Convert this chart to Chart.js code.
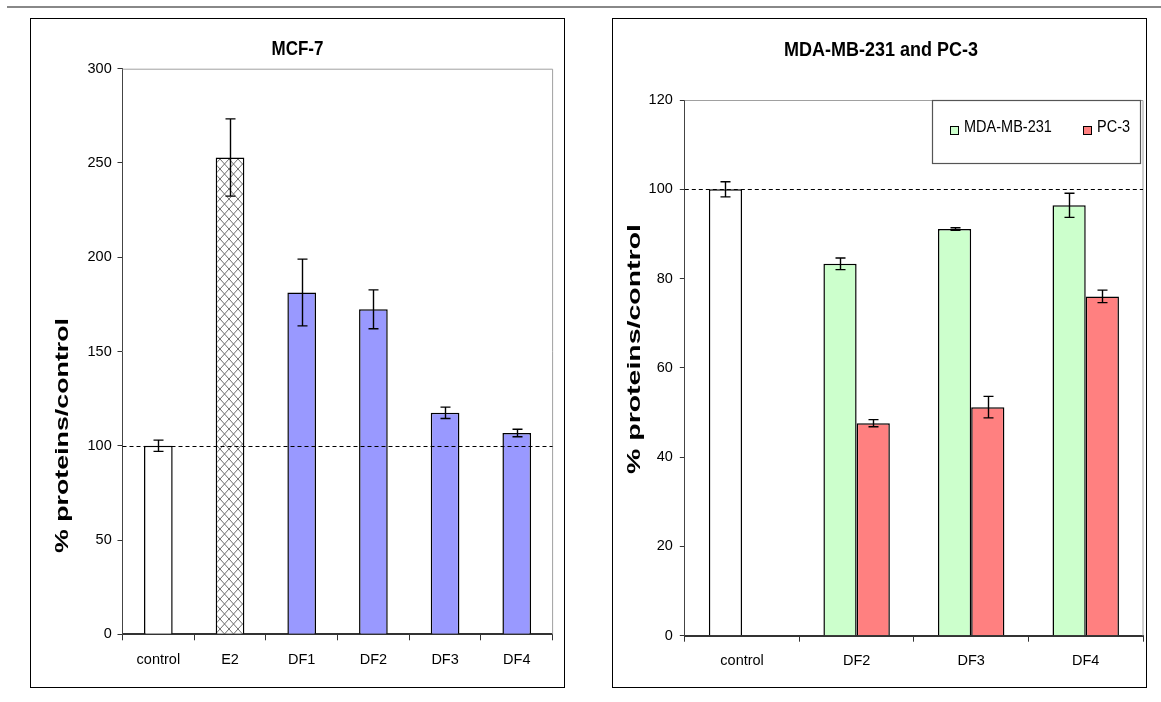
<!DOCTYPE html>
<html><head><meta charset="utf-8">
<script src="https://cdn.jsdelivr.net/npm/chart.js@4.4.1/dist/chart.umd.min.js"></script>
<style>
html,body{margin:0;padding:0;background:#fff;}
body{width:1161px;height:702px;position:relative;overflow:hidden;}
#topline{position:absolute;left:7px;top:6px;width:1154px;height:2px;background:#888;}
.panel{position:absolute;top:18px;height:670px;width:535px;border:1px solid #000;box-sizing:border-box;}
#p1{left:30px;} #p2{left:612px;}
canvas{position:absolute;top:0;left:0;}
</style></head><body>
<div id="topline"></div>
<div class="panel" id="p1"><canvas id="c1" width="533" height="668"></canvas></div>
<div class="panel" id="p2"><canvas id="c2" width="533" height="668"></canvas></div>
<script>
// ---- data ----
const mcfCategories = ['control', 'E2', 'DF1', 'DF2', 'DF3', 'DF4'];
const mcfValues = [100, 252.9, 181.3, 172.4, 117.5, 106.8];
const mcfErrors = [3, 20.5, 17.7, 10.3, 3, 2];
const mcfTicks = [0, 50, 100, 150, 200, 250, 300];

const cellCategories = ['control', 'DF2', 'DF3', 'DF4'];
const mdaValues = [100, 83.3, 91.1, 96.4];
const mdaErrors = [1.7, 1.3, 0.3, 2.7];
const pc3Values = [0, 47.6, 51.2, 76.0];
const pc3Errors = [0, 0.8, 2.4, 1.4];
const cellTicks = [0, 20, 40, 60, 80, 100, 120];
const seriesNames = ['MDA-MB-231', 'PC-3'];
const referenceLine = 100;

// ---- helpers ----
const FAMILY = '"Liberation Sans", Arial, sans-serif';
Chart.defaults.font.family = FAMILY;
Chart.defaults.color = '#000';

function hatchPattern(ctx) {
  const c = document.createElement('canvas');
  c.width = 9; c.height = 10;
  const g = c.getContext('2d');
  g.fillStyle = '#fff'; g.fillRect(0, 0, 9, 10);
  g.strokeStyle = '#6e6e6e'; g.lineWidth = 1;
  g.beginPath();
  g.moveTo(0, 0); g.lineTo(9, 10);
  g.moveTo(9, 0); g.lineTo(0, 10);
  g.stroke();
  return ctx.createPattern(c, 'repeat');
}

function stretchText(ctx, text, x, y, font, o) {
  ctx.save();
  ctx.translate(x, y);
  if (o.rot) ctx.rotate(o.rot);
  ctx.font = font;
  let sx = o.sx || 1;
  if (o.width) sx = o.width / ctx.measureText(text).width;
  ctx.scale(sx, o.sy || 1);
  ctx.textAlign = o.align || 'center';
  ctx.textBaseline = 'middle';
  ctx.fillStyle = '#000';
  ctx.fillText(text, 0, 0);
  ctx.restore();
}

const overlay = {
  id: 'overlay',
  beforeDatasetsDraw(chart, args, o) {
    const {ctx, chartArea: a} = chart;
    ctx.save();
    ctx.strokeStyle = '#a0a0a0'; ctx.lineWidth = 1;
    ctx.beginPath();
    ctx.moveTo(a.left, a.top + 0.5); ctx.lineTo(a.right, a.top + 0.5);
    ctx.lineTo(a.right, a.bottom);
    ctx.stroke();
    ctx.restore();
  },
  afterDatasetsDraw(chart, args, o) {
    const {ctx, chartArea: a} = chart;
    const ys = chart.scales.y;
    ctx.save();
    // reference line
    const yr = Math.round(ys.getPixelForValue(o.ref)) + 0.5;
    ctx.strokeStyle = '#000'; ctx.lineWidth = 1.2; ctx.setLineDash([4, 3]);
    ctx.beginPath(); ctx.moveTo(a.left, yr); ctx.lineTo(a.right, yr); ctx.stroke();
    ctx.setLineDash([]);
    // error bars
    ctx.lineWidth = 1.4; ctx.strokeStyle = '#000';
    chart.data.datasets.forEach((ds, di) => {
      const meta = chart.getDatasetMeta(di);
      const errs = o.errors[di];
      meta.data.forEach((bar, i) => {
        const e = errs[i];
        if (!e) return;
        const v = ds.data[i];
        const t = ys.getPixelForValue(v + e), b = ys.getPixelForValue(v - e);
        const x = Math.round(bar.x) + 0.5, h = o.cap / 2;
        ctx.beginPath();
        ctx.moveTo(x, t); ctx.lineTo(x, b);
        ctx.moveTo(x - h, t); ctx.lineTo(x + h, t);
        ctx.moveTo(x - h, b); ctx.lineTo(x + h, b);
        ctx.stroke();
      });
    });
    ctx.restore();
  },
  afterDraw(chart, args, o) {
    const ctx = chart.ctx;
    const t = o.title;
    stretchText(ctx, t.text, t.x, t.y, 'bold ' + t.size + 'px ' + FAMILY, {sy: 1.15});
    const yt = o.yTitle;
    stretchText(ctx, yt.text, yt.x, yt.y, 'bold ' + yt.size + 'px ' + FAMILY, {rot: -Math.PI / 2, width: yt.length});
    if (o.legend) {
      const L = o.legend;
      ctx.save();
      ctx.fillStyle = '#fff';
      ctx.fillRect(L.x, L.y, L.w, L.h);
      ctx.strokeStyle = '#555'; ctx.lineWidth = 1.2;
      ctx.strokeRect(L.x + 0.5, L.y + 0.5, L.w, L.h);
      L.items.forEach(it => {
        ctx.fillStyle = it.color;
        ctx.fillRect(it.x, L.sy, 8, 8);
        ctx.strokeStyle = '#000'; ctx.lineWidth = 1;
        ctx.strokeRect(it.x + 0.5, L.sy + 0.5, 8, 8);
        stretchText(ctx, it.text, it.x + 14, L.ty, '14.5px ' + FAMILY, {align: 'left', sy: 1.2});
      });
      ctx.restore();
    }
  }
};

function yAxis(ticks, width, pad) {
  return {
    min: ticks[0], max: ticks[ticks.length - 1],
    afterBuildTicks: s => { s.ticks = ticks.map(v => ({value: v})); },
    afterFit: s => { s.width = width; },
    grid: {drawOnChartArea: false, drawTicks: true, tickLength: 5, tickColor: '#333', tickWidth: 1},
    border: {color: '#444', width: 1},
    ticks: {font: {size: 14.5}, color: '#000', padding: pad}
  };
}
function xAxis(height) {
  return {
    z: 1,
    afterFit: s => { s.height = height; },
    grid: {offset: true, drawOnChartArea: false, drawTicks: true, tickLength: 6, tickColor: '#333', tickWidth: 1},
    border: {color: '#333', width: 2},
    ticks: {font: {size: 14.5}, color: '#000', padding: 11, maxRotation: 0, autoSkip: false}
  };
}

// ---- chart 1: MCF-7 ----
const ctx1 = document.getElementById('c1').getContext('2d');
const hatch = hatchPattern(ctx1);
new Chart(ctx1, {
  type: 'bar',
  data: {
    labels: mcfCategories,
    datasets: [{
      data: mcfValues,
      backgroundColor: ['#ffffff', hatch, '#9999ff', '#9999ff', '#9999ff', '#9999ff'],
      borderColor: '#000', borderWidth: 1.5,
      barPercentage: 0.4, categoryPercentage: 1
    }]
  },
  options: {
    responsive: false, animation: false,
    layout: {padding: {top: 49.7, right: 11.4, left: 0, bottom: 0}},
    plugins: {
      legend: {display: false}, tooltip: {enabled: false},
      overlay: {
        ref: referenceLine, errors: [mcfErrors], cap: 10,
        title: {text: 'MCF-7', x: 266.5, y: 31, size: 17},
        yTitle: {text: '% proteins/control', x: 32.5, y: 416.5, size: 18, length: 235}
      }
    },
    scales: {x: xAxis(52.7), y: yAxis(mcfTicks, 91.5, 5.8)}
  },
  plugins: [overlay]
});

// ---- chart 2: MDA-MB-231 and PC-3 ----
const ctx2 = document.getElementById('c2').getContext('2d');
new Chart(ctx2, {
  type: 'bar',
  data: {
    labels: cellCategories,
    datasets: [{
      label: seriesNames[0],
      data: mdaValues,
      backgroundColor: ['#ffffff', '#ccffcc', '#ccffcc', '#ccffcc'],
      borderColor: '#000', borderWidth: 1.5,
      barPercentage: 1, categoryPercentage: 0.58
    }, {
      label: seriesNames[1],
      data: pc3Values,
      backgroundColor: '#ff8080',
      borderColor: '#000', borderWidth: 1.5,
      barPercentage: 1, categoryPercentage: 0.58
    }]
  },
  options: {
    responsive: false, animation: false,
    layout: {padding: {top: 81, right: 3, left: 0, bottom: 0}},
    plugins: {
      legend: {display: false}, tooltip: {enabled: false},
      overlay: {
        ref: referenceLine, errors: [mdaErrors, pc3Errors], cap: 10,
        title: {text: 'MDA-MB-231 and PC-3', x: 268, y: 31, size: 18},
        yTitle: {text: '% proteins/control', x: 22.5, y: 330, size: 18, length: 250},
        legend: {
          x: 319, y: 81, w: 208, h: 63, sy: 107, ty: 108,
          items: [
            {text: seriesNames[0], color: '#ccffcc', x: 337},
            {text: seriesNames[1], color: '#ff8080', x: 470}
          ]
        }
      }
    },
    scales: {x: xAxis(51.3), y: yAxis(cellTicks, 71.8, 7)}
  },
  plugins: [overlay]
});
</script>
</body></html>
